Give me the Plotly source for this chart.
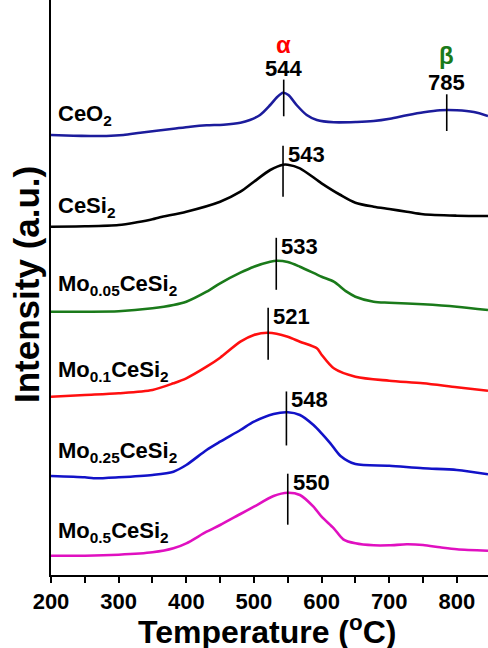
import numpy as np
import plotly.graph_objects as go

# ---- data ----
names = ["CeO<sub>2</sub>", "CeSi<sub>2</sub>", "Mo<sub>0.05</sub>CeSi<sub>2</sub>",
         "Mo<sub>0.1</sub>CeSi<sub>2</sub>", "Mo<sub>0.25</sub>CeSi<sub>2</sub>",
         "Mo<sub>0.5</sub>CeSi<sub>2</sub>"]

t_ceo2 = [200, 233, 258, 282, 307, 332, 356, 381, 406, 430, 455, 480, 494, 509, 524, 534, 543,
          551, 563, 578, 593, 618, 652, 677, 701, 726, 751, 775, 800, 825, 846]
s_ceo2 = [0, -0.7, -1, -1, 0, 2.3, 4.3, 6.3, 8.3, 9.7, 10.3, 12.3, 15, 20, 30, 37.7, 42.3,
          40, 30, 20, 15, 12.7, 13, 14, 16.3, 19.7, 22.7, 24.7, 24.7, 23, 19]

t_cesi2 = [200, 250, 300, 327, 350, 361, 400, 450, 480, 500, 524, 543, 550, 568, 600, 628, 650,
           677, 700, 726, 750, 800, 846]
s_cesi2 = [0, 0.4, 1.7, 4.4, 7.4, 9.4, 15, 25, 35, 45, 56.7, 62, 62, 58.4, 43.4, 31.7, 24,
           20, 17.7, 15, 12.4, 11, 10.7]

t_mo005 = [200, 250, 300, 350, 381, 400, 430, 450, 480, 500, 524, 534, 550, 568, 600, 618, 637,
           650, 677, 700, 750, 800, 846]
s_mo005 = [0, 0, 0.4, 3.4, 6.7, 10, 20, 28.4, 39, 45, 50, 51, 49.7, 45, 35, 30, 20,
           15, 10, 9, 7.4, 5, 1.7]

t_mo01 = [200, 250, 300, 350, 381, 400, 430, 450, 480, 500, 521, 550, 568, 593, 600, 618, 650,
          700, 750, 800, 846]
s_mo01 = [0, 1.7, 3.4, 6.7, 13.4, 18.4, 30, 39, 55, 61.7, 64, 60, 55, 48.4, 42, 28.4, 20,
          16, 13.4, 9.4, 6]

t_mo025 = [200, 250, 263, 300, 350, 381, 400, 430, 450, 480, 500, 529, 550, 568, 588, 600, 613,
           628, 650, 700, 750, 800, 846]
s_mo025 = [0, -1.3, -2.3, -1.3, 1, 4.3, 11, 26, 34.3, 46, 54.3, 62, 63.7, 61, 51, 42.7, 32.7,
           20, 12, 10.3, 7.7, 6, 1.7]

t_mo05 = [200, 250, 300, 350, 381, 400, 430, 450, 480, 500, 529, 550, 568, 588, 600, 618, 632,
          650, 677, 700, 726, 750, 775, 800, 846]
s_mo05 = [0, 0, 1, 3.4, 7.4, 12.4, 24, 30.7, 41.7, 49, 59.7, 63, 60.7, 49, 39, 27.4, 16.4,
          12.4, 10.4, 10.4, 11.4, 10.7, 8.4, 6.4, 5]

peaks = [544, 543, 533, 521, 548, 550]
peak_beta = 785
x_ticks = [200, 300, 400, 500, 600, 700, 800]

# ---- styling / layout parameters ----
temps = [t_ceo2, t_cesi2, t_mo005, t_mo01, t_mo025, t_mo05]
sigs = [s_ceo2, s_cesi2, s_mo005, s_mo01, s_mo025, s_mo05]
offsets = [440, 348.3, 263.3, 178.3, 99, 19.3]
colors = ["#1c1c9c", "#000000", "#1a7a1a", "#ff0f0f", "#1212c8", "#e010c0"]
label_lift = [19.7, 20.2, 26.4, 25.5, 24.3, 24]
mark_up = [13.4, 19, 23, 25, 21, 19]
mark_dn = [23.3, 32, 29, 27, 33, 32]

FONT = "Liberation Sans, Arial, sans-serif"
px2x = 646 / 437.0

fig = go.Figure()
shapes = []
annotations = []
for i in range(6):
    y = np.array(sigs[i]) + offsets[i]
    fig.add_trace(go.Scatter(x=temps[i], y=y, mode="lines",
                             line=dict(color=colors[i], width=2.6, shape="spline", smoothing=0.8),
                             showlegend=False, hoverinfo="skip"))
    yp = offsets[i] + float(np.interp(peaks[i], temps[i], sigs[i]))
    top = yp + mark_up[i]
    shapes.append(dict(type="line", xref="x", yref="y", x0=peaks[i], x1=peaks[i],
                       y0=yp - mark_dn[i], y1=top, line=dict(color="black", width=1.6)))
    if i == 0:
        annotations.append(dict(x=peaks[i], y=top + 11, xref="x", yref="y", text="<b>%d</b>" % peaks[i],
                                showarrow=False, xanchor="center", yanchor="middle",
                                font=dict(family=FONT, size=22, color="black")))
        annotations.append(dict(x=peaks[i], y=top + 35, xref="x", yref="y", text="<b>α</b>",
                                showarrow=False, xanchor="center", yanchor="middle",
                                font=dict(family=FONT, size=24, color="#ff0000")))
        yb = offsets[i] + float(np.interp(peak_beta, temps[i], sigs[i]))
        topb = yb + 16
        shapes.append(dict(type="line", xref="x", yref="y", x0=peak_beta, x1=peak_beta,
                           y0=yb - 20.7, y1=topb, line=dict(color="black", width=1.6)))
        annotations.append(dict(x=peak_beta, y=topb + 12, xref="x", yref="y", text="<b>%d</b>" % peak_beta,
                                showarrow=False, xanchor="center", yanchor="middle",
                                font=dict(family=FONT, size=22, color="black")))
        annotations.append(dict(x=peak_beta, y=topb + 38.5, xref="x", yref="y", text="<b>β</b>",
                                showarrow=False, xanchor="center", yanchor="middle",
                                font=dict(family=FONT, size=24, color="#1a7a1a")))
    else:
        annotations.append(dict(x=peaks[i] + 3 * px2x, y=top - 8.5, xref="x", yref="y",
                                text="<b>%d</b>" % peaks[i], showarrow=False,
                                xanchor="left", yanchor="middle",
                                font=dict(family=FONT, size=22, color="black")))
    annotations.append(dict(x=200 + 5 * px2x, y=offsets[i] + label_lift[i], xref="x", yref="y",
                            text="<b>%s</b>" % names[i], showarrow=False,
                            xanchor="left", yanchor="middle",
                            font=dict(family=FONT, size=22, color="black")))

annotations.append(dict(x=(267 - 51) / 437, y=(575 - 630) / 575, xref="paper", yref="paper",
                        text="<b>Temperature (<sup>o</sup>C)</b>", showarrow=False,
                        xanchor="center", yanchor="middle",
                        font=dict(family=FONT, size=32, color="black")))
annotations.append(dict(x=(26 - 51) / 437, y=(575 - 285) / 575, xref="paper", yref="paper",
                        text="<b>Intensity (a.u.)</b>", showarrow=False, textangle=-90,
                        xanchor="center", yanchor="middle",
                        font=dict(family=FONT, size=35, color="black")))

fig.update_layout(
    width=488, height=648,
    margin=dict(l=51, r=0, t=0, b=73),
    paper_bgcolor="white", plot_bgcolor="white",
    shapes=shapes, annotations=annotations,
    xaxis=dict(range=[200, 846], tickvals=x_ticks, ticks="outside", ticklen=6, tickwidth=1.5,
               tickcolor="black", showline=True, linecolor="black", linewidth=2,
               showgrid=False, zeroline=False,
               tickfont=dict(family=FONT, size=22, color="black", weight="bold"),
               minor=dict(dtick=50, tick0=200, ticks="outside", ticklen=6, tickwidth=1.5,
                          tickcolor="black", showgrid=False)),
    yaxis=dict(range=[0, 575], showticklabels=False, ticks="", showline=True,
               linecolor="black", linewidth=2, showgrid=False, zeroline=False),
)

fig.write_html("out.html")
